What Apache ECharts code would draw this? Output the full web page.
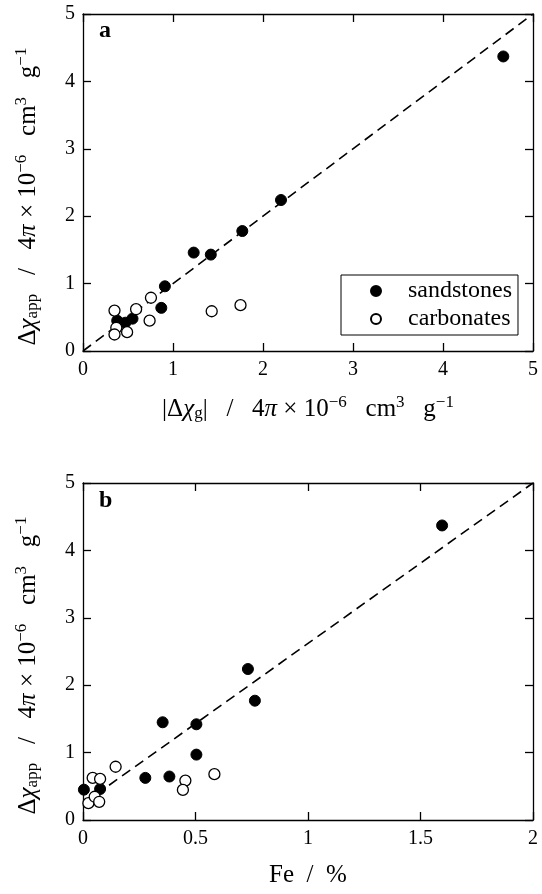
<!DOCTYPE html>
<html>
<head>
<meta charset="utf-8">
<script src="https://cdn.jsdelivr.net/npm/echarts@6/dist/echarts.min.js"></script>
<style>
  html, body { margin: 0; padding: 0; background: #fff; }
  #chart { width: 542px; height: 894px; }
</style>
</head>
<body>
<div id="chart"></div>
<script>
// panel a: apparent vs geometric susceptibility difference
const sandA = [[4.67, 4.37], [2.2, 2.24], [1.77, 1.78], [1.23, 1.46], [1.42, 1.43],
  [0.91, 0.96], [0.87, 0.64], [0.38, 0.45], [0.47, 0.42], [0.55, 0.48]]
const carbA = [[0.35, 0.60], [0.59, 0.62], [0.755, 0.79], [0.74, 0.45], [1.43, 0.59],
  [1.75, 0.68], [0.37, 0.345], [0.35, 0.245], [0.49, 0.28]]
const lineA = [[0, 0], [5, 5]]

// panel b: apparent susceptibility vs Fe content
const sandB = [[1.596, 4.37], [0.733, 2.24], [0.764, 1.77], [0.354, 1.45], [0.504, 1.42],
  [0.504, 0.97], [0.277, 0.625], [0.384, 0.645], [0.004, 0.45], [0.076, 0.46]]
const carbB = [[0.145, 0.79], [0.043, 0.625], [0.076, 0.61], [0.455, 0.585], [0.444, 0.446],
  [0.584, 0.68], [0.024, 0.25], [0.052, 0.345], [0.072, 0.27]]
const lineB = [[0, 0.24], [2, 5]]

const font = 'Liberation Serif, Times New Roman, serif'
const rich = {
  t: { fontFamily: font, fontSize: 25, color: '#000' },
  it: { fontFamily: font, fontSize: 25, fontStyle: 'italic', color: '#000' },
  sup: { fontFamily: font, fontSize: 17, color: '#000', padding: [0, 0, 13, 0] },
  sub: { fontFamily: font, fontSize: 17, color: '#000', padding: [10, 0, 0, 0] }
}
const yName = '{t|Δ}{it|χ}{sub|app}{t|   /   4}{it|π}{t| × 10}{sup|−6}{t|   cm}{sup|3}{t|   g}{sup|−1}'
const xNameA = '{t||Δ}{it|χ}{sub|g}{t||   /   4}{it|π}{t| × 10}{sup|−6}{t|   cm}{sup|3}{t|   g}{sup|−1}'
const xNameB = '{t|Fe  /  %}'

const chart = echarts.init(document.getElementById('chart'))

const lineStyle = { color: '#000', width: 1.3 }
function mainX(grid, max, interval, name) {
  return {
    gridIndex: grid, type: 'value', min: 0, max, interval, position: 'bottom',
    axisLine: { show: true, onZero: false, lineStyle },
    axisTick: { show: true, inside: true, length: 8, lineStyle },
    axisLabel: { fontFamily: font, fontSize: 20, color: '#000', margin: 9,
      formatter: v => String(v) },
    splitLine: { show: false },
    name, nameLocation: 'middle', nameGap: 43,
    nameTextStyle: { fontFamily: font, fontSize: 25, color: '#000', rich }
  }
}
function mirrorX(grid, max, interval) {
  return {
    gridIndex: grid, type: 'value', min: 0, max, interval, position: 'top',
    axisLine: { show: true, onZero: false, lineStyle },
    axisTick: { show: true, inside: true, length: 8, lineStyle },
    axisLabel: { show: false }, splitLine: { show: false }
  }
}
function mainY(grid) {
  return {
    gridIndex: grid, type: 'value', min: 0, max: 5, interval: 1, position: 'left',
    axisLine: { show: true, onZero: false, lineStyle },
    axisTick: { show: true, inside: true, length: 8, lineStyle },
    axisLabel: { fontFamily: font, fontSize: 20, color: '#000', margin: 8 },
    splitLine: { show: false },
    name: yName, nameLocation: 'middle', nameGap: 40, nameRotate: 90,
    nameTextStyle: { fontFamily: font, fontSize: 25, color: '#000', rich, padding: [0, 28, 0, 0] }
  }
}
function mirrorY(grid) {
  return {
    gridIndex: grid, type: 'value', min: 0, max: 5, interval: 1, position: 'right',
    axisLine: { show: true, onZero: false, lineStyle },
    axisTick: { show: true, inside: true, length: 8, lineStyle },
    axisLabel: { show: false }, splitLine: { show: false }
  }
}

const filled = { color: '#000', borderColor: '#000', borderWidth: 1, opacity: 1 }
const open = { color: '#fff', borderColor: '#000', borderWidth: 1.3, opacity: 1 }

function scatter(name, data, xi, yi, style) {
  return {
    name, type: 'scatter', data, xAxisIndex: xi, yAxisIndex: yi,
    symbol: 'circle', symbolSize: 11, itemStyle: style,
    z: style === open ? 4 : 3, silent: true
  }
}
function dashed(data, xi, yi) {
  return {
    type: 'line', data, xAxisIndex: xi, yAxisIndex: yi, symbol: 'none', silent: true,
    lineStyle: { color: '#000', width: 1.6, type: [10, 6] }, z: 2
  }
}

chart.setOption({
  animation: false,
  backgroundColor: '#fff',
  grid: [
    { left: 83, top: 14, width: 450, height: 337, outerBoundsMode: 'none' },
    { left: 83, top: 483, width: 450, height: 337, outerBoundsMode: 'none' }
  ],
  xAxis: [
    mainX(0, 5, 1, xNameA),
    mirrorX(0, 5, 1),
    mainX(1, 2, 0.5, xNameB),
    mirrorX(1, 2, 0.5)
  ],
  yAxis: [mainY(0), mirrorY(0), mainY(1), mirrorY(1)],
  legend: {
    data: ['sandstones', 'carbonates'],
    orient: 'vertical', left: 341, top: 275,
    borderColor: '#000', borderWidth: 1, borderRadius: 0,
    padding: [4, 6, 4, 29], itemGap: 4, itemWidth: 10, itemHeight: 10,
    textStyle: { fontFamily: font, fontSize: 24, color: '#000', padding: [0, 0, 0, 22] },
    selectedMode: false
  },
  graphic: [
    { type: 'text', left: 99, top: 19, style: { text: 'a', font: 'bold 24px ' + font, fill: '#000' } },
    { type: 'text', left: 99, top: 489, style: { text: 'b', font: 'bold 24px ' + font, fill: '#000' } }
  ],
  series: [
    dashed(lineA, 0, 0),
    scatter('sandstones', sandA, 0, 0, filled),
    scatter('carbonates', carbA, 0, 0, open),
    dashed(lineB, 2, 2),
    scatter('sandstones', sandB, 2, 2, filled),
    scatter('carbonates', carbB, 2, 2, open)
  ]
})
</script>
</body>
</html>
